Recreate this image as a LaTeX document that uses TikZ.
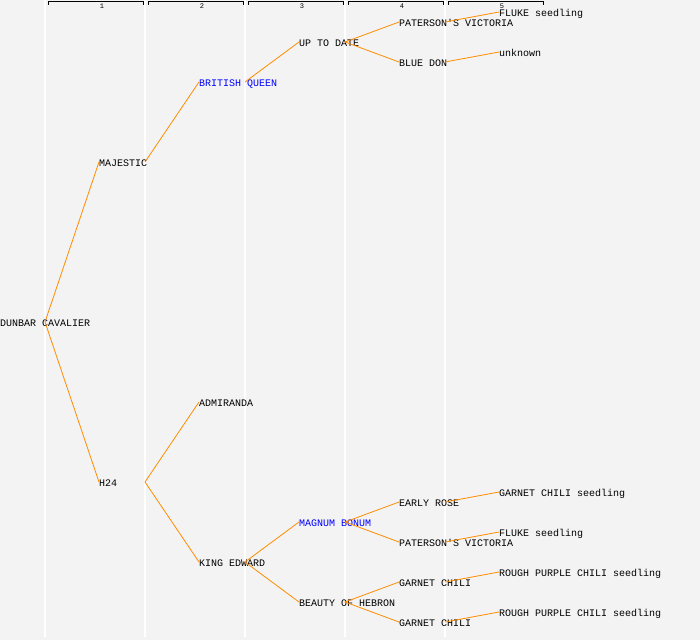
\documentclass[tikz,border=0pt]{standalone}
\usepackage{fontspec}
\setmonofont{Liberation Mono}
\definecolor{bgc}{RGB}{243,243,243}
\definecolor{edgec}{RGB}{255,140,0}
\tikzset{
  nm/.style={anchor=west, inner sep=0pt, text height=8pt, text depth=0pt, font=\ttfamily\fontsize{10}{10}\selectfont, text=black},
  hl/.style={text=blue},
  ed/.style={draw=edgec, line width=0.8pt},
  colline/.style={draw=white, line width=1.5pt},
  brk/.style={draw=black, line width=0.9pt},
  clab/.style={inner sep=0pt, font=\ttfamily\fontsize{7}{7}\selectfont}
}
\begin{document}
\begin{tikzpicture}[x=1pt,y=-1pt]
\fill[bgc] (0,0) rectangle (700,640);
\useasboundingbox (0,0) rectangle (700,640);
% column lines
\foreach \c in {45,145,245,345,445} \draw[colline] (\c,0) -- (\c,637);
% brackets
\foreach \i/\a in {1/48,2/148,3/248,4/348,5/448} {
  \draw[brk] (\a,4.5) -- (\a,1.5) -- (\a+95,1.5) -- (\a+95,4.5);
  \node[clab] (lab\i) at (\a+54,6.5) {\i};
}
% nodes
\node[nm] (dc) at (0,322) {DUNBAR CAVALIER};
\node[nm] (maj) at (99,162) {MAJESTIC};
\node[nm] (h24) at (99,482) {H24};
\node[nm,hl] (bq) at (199,82) {BRITISH QUEEN};
\node[nm] (adm) at (199,402) {ADMIRANDA};
\node[nm] (ke) at (199,562) {KING EDWARD};
\node[nm] (utd) at (299,42) {UP TO DATE};
\node[nm,hl] (mb) at (299,522) {MAGNUM BONUM};
\node[nm] (boh) at (299,602) {BEAUTY OF HEBRON};
\node[nm] (pv1) at (399,22) {PATERSON'S VICTORIA};
\node[nm] (bd) at (399,62) {BLUE DON};
\node[nm] (er) at (399,502) {EARLY ROSE};
\node[nm] (pv2) at (399,542) {PATERSON'S VICTORIA};
\node[nm] (gc1) at (399,582) {GARNET CHILI};
\node[nm] (gc2) at (399,622) {GARNET CHILI};
\node[nm] (fs1) at (499,12) {FLUKE seedling};
\node[nm] (unk) at (499,52) {unknown};
\node[nm] (gcs) at (499,492) {GARNET CHILI seedling};
\node[nm] (fs2) at (499,532) {FLUKE seedling};
\node[nm] (rp1) at (499,572) {ROUGH PURPLE CHILI seedling};
\node[nm] (rp2) at (499,612) {ROUGH PURPLE CHILI seedling};
% junction points
\coordinate (jdc) at ([xshift=45pt]dc.west);
\coordinate (jmaj) at ([xshift=46pt]maj.west);
\coordinate (jh24) at ([xshift=46pt]h24.west);
\coordinate (jbq) at ([xshift=46pt]bq.west);
\coordinate (jke) at ([xshift=46pt]ke.west);
\coordinate (jutd) at ([xshift=46pt]utd.west);
\coordinate (jmb) at ([xshift=46pt]mb.west);
\coordinate (jboh) at ([xshift=46pt]boh.west);
\coordinate (jpv1) at ([xshift=46pt]pv1.west);
\coordinate (jbd) at ([xshift=46pt]bd.west);
\coordinate (jer) at ([xshift=46pt]er.west);
\coordinate (jpv2) at ([xshift=46pt]pv2.west);
\coordinate (jgc1) at ([xshift=46pt]gc1.west);
\coordinate (jgc2) at ([xshift=46pt]gc2.west);
% edges
\draw[ed] (maj.west) -- (jdc) -- (h24.west);
\draw[ed] (jmaj) -- (bq.west);
\draw[ed] (adm.west) -- (jh24) -- (ke.west);
\draw[ed] (jbq) -- (utd.west);
\draw[ed] (mb.west) -- (jke) -- (boh.west);
\draw[ed] (pv1.west) -- (jutd) -- (bd.west);
\draw[ed] (er.west) -- (jmb) -- (pv2.west);
\draw[ed] (gc1.west) -- (jboh) -- (gc2.west);
\draw[ed] (jpv1) -- (fs1.west);
\draw[ed] (jbd) -- (unk.west);
\draw[ed] (jer) -- (gcs.west);
\draw[ed] (jpv2) -- (fs2.west);
\draw[ed] (jgc1) -- (rp1.west);
\draw[ed] (jgc2) -- (rp2.west);
\end{tikzpicture}
\end{document}
